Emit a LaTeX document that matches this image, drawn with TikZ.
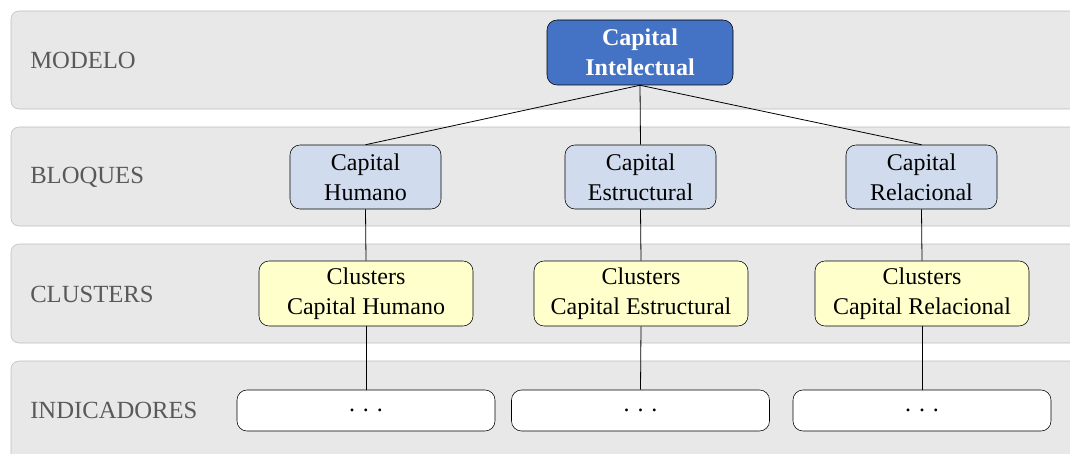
\documentclass[tikz,border=0pt]{standalone}
\usepackage{fontspec}
\setmainfont{Liberation Serif}
\usepackage{xcolor}
\definecolor{bandgray}{HTML}{E8E8E8}
\definecolor{bandline}{HTML}{BDBDBD}
\definecolor{labelgray}{HTML}{595959}
\definecolor{modelblue}{HTML}{4472C4}
\definecolor{blocblue}{HTML}{D0DCEE}
\definecolor{clusyellow}{HTML}{FFFFCC}
\tikzset{
  band/.style={draw=bandline, fill=bandgray, rounded corners=6pt},
  bandlabel/.style={anchor=west, text=labelgray, inner sep=0pt, font=\fontsize{18.5}{22}\selectfont},
  box/.style={draw, rounded corners=7.5pt, align=center, inner sep=1pt,
              font=\fontsize{18}{22.5}\selectfont},
}
\begin{document}
\begin{tikzpicture}[x=0.75pt,y=-0.75pt]
    \useasboundingbox (0,0) rectangle (1070,453);
    \clip (0,0) rectangle (1070,453);

    % franjas
    \draw[band] (11,11) rectangle (1090,109);
    \draw[band] (11,127) rectangle (1090,226);
    \draw[band] (11,244) rectangle (1090,343);
    \draw[band] (11,361) rectangle (1090,470);
    \node[bandlabel] (lmod) at (30,60) {MODELO};
    \node[bandlabel] (lbloq) at (30,177) {BLOQUES};
    \node[bandlabel] (lclus) at (30,294) {CLUSTERS};
    \node[bandlabel] (lind) at (30,410) {INDICADORES};

    \node[box, fill=modelblue, text=white, font=\fontsize{18}{22.5}\selectfont\bfseries,
          minimum width=139.5pt, minimum height=48.75pt] (ci) at (640,52.5) {Capital\\Intelectual};

    \node[box, fill=blocblue, minimum width=113.25pt, minimum height=48pt] (ch) at (365.5,177) {Capital\\Humano};
    \node[box, fill=blocblue, minimum width=113.25pt, minimum height=48pt] (ce) at (640.5,177) {Capital\\Estructural};
    \node[box, fill=blocblue, minimum width=113.25pt, minimum height=48pt] (cr) at (921.5,177) {Capital\\Relacional};

    \node[box, fill=clusyellow, minimum width=160.5pt, minimum height=48.75pt] (clh) at (366,293.5) {Clusters\\Capital Humano};
    \node[box, fill=clusyellow, minimum width=160.5pt, minimum height=48.75pt] (cle) at (641,293.5) {Clusters\\Capital Estructural};
    \node[box, fill=clusyellow, minimum width=160.5pt, minimum height=48.75pt] (clr) at (922,293.5) {Clusters\\Capital Relacional};

    \node[box, fill=white, minimum width=193.5pt, minimum height=30.75pt] (ih) at (366,410.5) {.\,\,.\,\,.};
    \node[box, fill=white, minimum width=193.5pt, minimum height=30.75pt] (ie) at (640.5,410.5) {.\,\,.\,\,.};
    \node[box, fill=white, minimum width=193.5pt, minimum height=30.75pt] (ir) at (922,410.5) {.\,\,.\,\,.};

    \draw[line width=0.6pt] (ci.south) -- (ch.north);
    \draw[line width=0.6pt] (ci.south) -- (ce.north);
    \draw[line width=0.6pt] (ci.south) -- (cr.north);
    \draw[line width=0.6pt] (ch.south) -- (clh.north);
    \draw[line width=0.6pt] (ce.south) -- (cle.north);
    \draw[line width=0.6pt] (cr.south) -- (clr.north);
    \draw[line width=0.6pt] (clh.south) -- (ih.north);
    \draw[line width=0.6pt] (cle.south) -- (ie.north);
    \draw[line width=0.6pt] (clr.south) -- (ir.north);
\end{tikzpicture}
\end{document}
